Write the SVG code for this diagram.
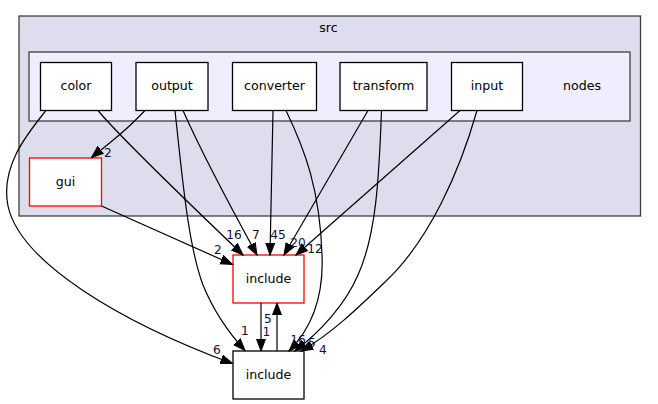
<svg xmlns="http://www.w3.org/2000/svg" width="658" height="404" viewBox="0 0 658 404">
<style>
.cl{stroke:#404040;stroke-width:1.3}
.nd{fill:#ffffff;stroke:#000000;stroke-width:1.3}
.red{stroke:#ff0000}
text{font-family:"DejaVu Sans",sans-serif;font-size:12.6px;fill:#000000;text-anchor:middle}
.lb{font-size:12.2px;fill:#101030}
.e{fill:none;stroke:#000000;stroke-width:1.2;marker-end:url(#ah)}
</style>
<defs>
<marker id="ah" markerUnits="userSpaceOnUse" markerWidth="14" markerHeight="12" refX="12" refY="4.5" orient="auto" viewBox="0 0 14 9">
<polygon points="0,0 12,4.5 0,9" fill="#000000" stroke="#000000" stroke-width="1"/>
</marker>
</defs>
<rect width="658" height="404" fill="#ffffff"/>
<g id="cluster_src">
<rect class="cl" x="19" y="16" width="621.5" height="200" fill="#ddddee"/>
<text x="328.5" y="31.5">src</text>
</g>
<g id="cluster_nodes">
<rect class="cl" x="29" y="52" width="601" height="69" fill="#eeeeff"/>
<text x="582" y="89.5">nodes</text>
</g>
<g id="color"><rect class="nd" x="40.5" y="62.5" width="71" height="48"/><text x="76" y="89.5">color</text></g>
<g id="output"><rect class="nd" x="136" y="62.5" width="72" height="48"/><text x="172" y="89.5">output</text></g>
<g id="converter"><rect class="nd" x="232.5" y="62.5" width="84" height="48"/><text x="274.5" y="89.5">converter</text></g>
<g id="transform"><rect class="nd" x="340" y="62.5" width="87" height="48"/><text x="383.5" y="89.5">transform</text></g>
<g id="input"><rect class="nd" x="451.5" y="62.5" width="71" height="48"/><text x="487" y="89.5">input</text></g>
<g id="gui"><rect class="nd red" x="29.5" y="158" width="72" height="48"/><text x="65.5" y="186">gui</text></g>
<g id="include_red"><rect class="nd red" x="233" y="255" width="71" height="48"/><text x="268.5" y="283">include</text></g>
<g id="include_bottom"><rect class="nd" x="233" y="351" width="71" height="48"/><text x="268.5" y="379">include</text></g>
<g id="edges">
<path class="e" d="M145,110.5 C135,121 122,133 112,141 C105,147 98,152 91.5,157.5"/>
<text class="lb" x="108" y="156.5">2</text>
<path class="e" d="M98,110.5 C118,135 175,190 243,255"/>
<text class="lb" x="234" y="238.5">16</text>
<path class="e" d="M46,110.5 C28,133 0,166 8,206 C20,262 120,322 232.5,363.5"/>
<text class="lb" x="217" y="353.5">6</text>
<path class="e" d="M183,110.5 C205,160 235,215 257,255"/>
<text class="lb" x="256" y="238.5">7</text>
<path class="e" d="M175,110.5 C182,175 188,245 203,285 C214,312 228,332 245,350.5"/>
<text class="lb" x="245" y="334.5">1</text>
<path class="e" d="M101.5,206 L232.5,264.5"/>
<text class="lb" x="218" y="254">2</text>
<path class="e" d="M273,110.5 C272,160 271,210 270,255"/>
<text class="lb" x="278" y="238.5">45</text>
<path class="e" d="M286,110.5 C305,150 320,190 322,255 C324,300 310,330 289,351"/>
<text class="lb" x="298" y="343.5">16</text>
<path class="e" d="M368,110.5 L284,255"/>
<text class="lb" x="298" y="246.5">20</text>
<path class="e" d="M381.5,110.5 C379,180 376,235 358,275 C345,305 320,332 295,351"/>
<text class="lb" x="312" y="346.5">5</text>
<path class="e" d="M460,110.5 L296,255"/>
<text class="lb" x="315" y="252.5">12</text>
<path class="e" d="M477,110.5 C460,170 430,240 385,282 C358,308 330,335 301,351"/>
<text class="lb" x="323" y="353.5">4</text>
<path class="e" d="M261,303 L261,351"/>
<text class="lb" x="266.5" y="336">1</text>
<path class="e" d="M277,351 L277,303"/>
<text class="lb" x="268" y="322.5">5</text>
</g>
</svg>
